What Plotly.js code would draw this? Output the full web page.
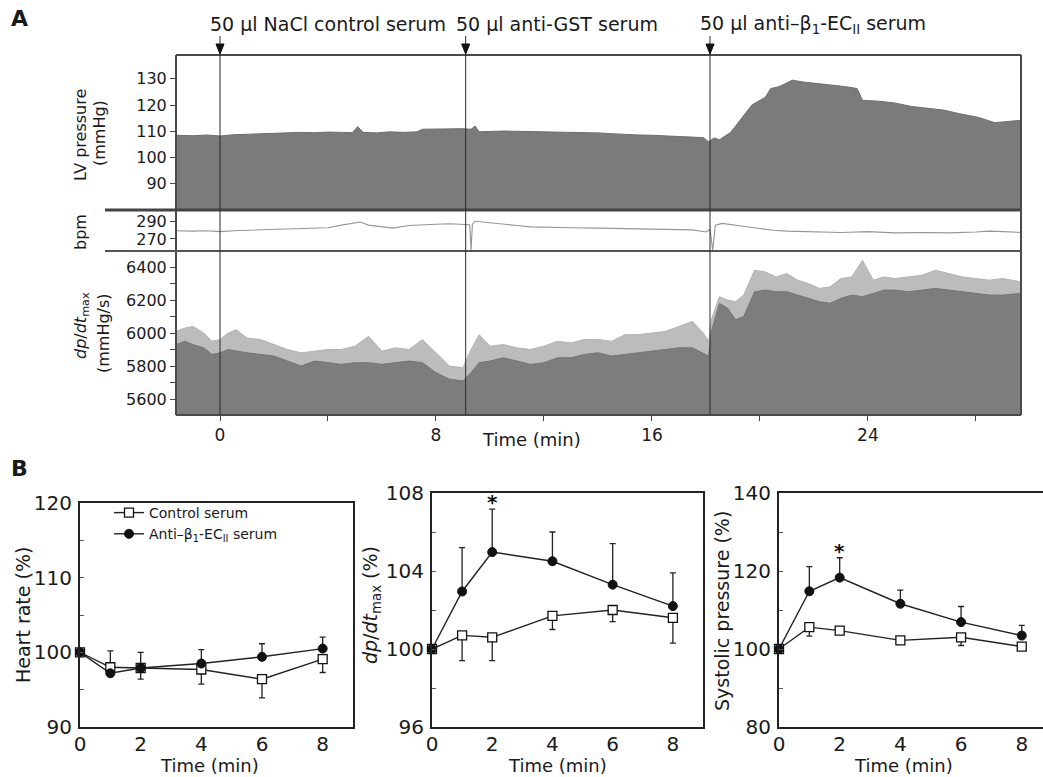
<!DOCTYPE html>
<html><head><meta charset="utf-8">
<script src="https://cdn.plot.ly/plotly-3.0.1.min.js"></script>
<style>html,body{margin:0;padding:0;background:#fff;} #chart{width:1043px;height:777px;}</style>
</head><body><div id="chart"></div>
<script>
// ---------- Panel A data (read from the recording) ----------
const lvTime = [-1.63,-1.0,-0.5,0,0.5,1.0,1.5,2.0,2.5,3.0,3.5,4.0,4.5,4.9,5.1,5.3,5.8,6.3,6.8,7.3,7.5,8.0,8.5,9.0,9.3,9.45,9.6,10.0,10.5,11.0,11.5,12.0,12.5,13.0,13.5,14.0,14.5,15.0,15.5,16.0,16.5,17.0,17.5,17.9,18.1,18.3,18.5,18.7,18.9,19.1,19.4,19.7,20.2,20.4,20.7,21.2,21.6,22.0,22.6,23.2,23.6,23.8,24.4,25.0,25.6,26.2,26.8,27.4,28.1,28.7,29.3,29.67];
const lvPressure = [108.5,108.3,108.6,108.2,108.7,108.9,109.0,109.2,109.4,109.6,109.5,109.7,109.6,109.5,111.8,109.6,109.4,109.8,109.6,109.8,110.8,110.9,110.8,111.0,110.8,112.0,109.8,110.0,110.1,110.0,109.9,110.0,109.8,109.7,109.6,109.4,109.1,108.8,108.6,108.5,108.2,108.0,107.8,107.6,106.0,107.5,106.8,108.0,109.5,112.0,116.0,120.0,123.0,126.3,127.0,129.5,128.8,128.4,127.7,127.0,126.3,121.8,121.5,120.8,119.5,118.8,118.1,116.7,115.3,113.3,114.0,114.2];

const bpmTime = [-1.63,-1.0,-0.5,0,0.5,1.0,1.5,2.0,2.5,3.0,3.5,4.0,4.5,5.0,5.2,5.5,6.0,6.4,7.0,7.5,8.0,8.5,9.0,9.25,9.3,9.35,9.45,10.0,10.5,11.0,11.5,12,13,14,15,16,17,17.5,18.0,18.15,18.25,18.35,18.6,19.0,19.5,20.0,20.5,21,22,23,24,25,26,27,28,28.5,29,29.67];
const bpmValues = [279.5,279.0,279.5,278.5,279.5,280.0,280.5,280.5,281.0,281.5,282.0,283.0,286.0,288.0,289.5,286.0,284.0,282.5,285.5,286.5,287.0,287.5,287.0,286.5,257,287,290.5,289.0,287.5,285.5,284.0,283.5,283,282.5,282,281.5,281,280.5,278,281,257,286,288,286,284,282,280,279,278,277.5,278.5,277,277.5,277,278,279,278.5,277.5];

const dpTime = [-1.63,-1.3,-1.0,-0.6,-0.3,0,0.3,0.6,1.0,1.5,2.0,2.5,3.0,3.5,4.0,4.5,5.0,5.5,6.0,6.5,7.0,7.5,8.0,8.5,9.0,9.3,9.6,10.0,10.5,11.0,11.5,12.0,12.5,13.0,13.5,14.0,14.5,15.0,15.5,16.0,16.5,17.0,17.5,17.9,18.1,18.2,18.5,18.8,19.1,19.4,19.8,20.2,20.6,21.0,21.4,21.8,22.2,22.6,23.0,23.4,23.8,24.2,24.6,25.0,25.5,26.0,26.5,27.0,27.5,28.0,28.5,29.0,29.67];
const dpDense = [5930,5950,5930,5910,5870,5880,5900,5890,5880,5870,5860,5830,5800,5830,5820,5810,5820,5820,5810,5820,5830,5820,5760,5720,5710,5760,5820,5830,5850,5830,5810,5820,5850,5850,5870,5880,5860,5870,5880,5890,5900,5910,5910,5880,5860,6010,6180,6150,6080,6100,6250,6260,6250,6250,6230,6210,6190,6180,6210,6230,6220,6240,6260,6260,6250,6260,6270,6260,6250,6240,6230,6230,6240];
const dpPeak = [6010,6030,6040,6000,5950,5960,6000,6020,5970,5960,5930,5900,5880,5890,5900,5900,5920,5980,5890,5910,5900,5960,5880,5800,5790,5900,5990,5920,5930,5910,5900,5920,5950,5940,5960,5960,5950,5990,5990,6000,6010,6040,6070,6000,5950,6080,6220,6200,6190,6230,6380,6370,6340,6360,6320,6300,6270,6280,6330,6340,6440,6320,6340,6330,6340,6350,6380,6360,6340,6330,6320,6330,6310];

const injectionTimes = [0, 9.1, 18.15];
const injectionLabels = ['50 μl NaCl control serum', '50 μl anti-GST serum', '50 μl anti–β<sub>1</sub>-EC<sub>II</sub> serum'];
const lvTicks = [90, 100, 110, 120, 130];
const bpmTicks = [270, 290];

// ---------- Panel B data ----------
const bTime = [0,1,2,4,6,8];
const seriesNames = ['Control serum', 'Anti–β<sub>1</sub>-EC<sub>II</sub> serum'];
const hrControl = [100, 98.0, 97.9, 97.7, 96.4, 99.1];
const hrControlUp = [0, 2.2, 2.1, 0, 0, 0];
const hrControlDown = [0, 0, 0, 1.95, 2.5, 1.8];
const hrAnti = [100, 97.2, 97.9, 98.5, 99.4, 100.5];
const hrAntiUp = [0, 0, 0, 1.85, 1.75, 1.55];
const hrAntiDown = [0, 0, 1.5, 0, 0, 0];

const dpControl = [100, 100.7, 100.6, 101.7, 102.0, 101.6];
const dpControlUp = [0, 0, 0, 0, 0, 0];
const dpControlDown = [0, 1.3, 1.2, 0.7, 0.6, 1.3];
const dpAnti = [100, 102.95, 104.97, 104.5, 103.3, 102.2];
const dpAntiUp = [0, 2.25, 2.2, 1.5, 2.1, 1.7];
const dpAntiDown = [0, 0, 0, 0, 0, 0];

const spControl = [100, 105.6, 104.7, 102.2, 103.0, 100.6];
const spControlUp = [0, 0, 0, 0, 0, 0];
const spControlDown = [0, 2.3, 0, 0, 2.1, 0];
const spAnti = [100, 114.8, 118.3, 111.6, 106.9, 103.45];
const spAntiUp = [0, 6.3, 5.1, 3.5, 4.0, 2.6];
const spAntiDown = [0, 0, 0, 0, 0, 0];

const starIndex = 2; // significant point (t = 2 min)

// ---------- layout helpers ----------
const W = 1043, H = 777;
const px = v => v / W;
const py = v => 1 - v / H;
const FONT = 'DejaVu Sans, Arial, sans-serif';
const INK = '#1a1a1a';
const A_LEFT = 176, A_RIGHT = 1021, A_TOP = 55, A_SEP1 = 210, A_SEP2 = 251, A_BOT = 415;

const traces = [];
traces.push({x: lvTime, y: lvPressure, xaxis: 'x', yaxis: 'y', type: 'scatter', mode: 'lines',
  fill: 'tozeroy', fillcolor: '#7b7b7b', line: {color: '#6e6e6e', width: 1}, showlegend: false, hoverinfo: 'skip'});
traces.push({x: bpmTime, y: bpmValues, xaxis: 'x', yaxis: 'y2', type: 'scatter', mode: 'lines',
  line: {color: '#959595', width: 1.1}, showlegend: false, hoverinfo: 'skip'});
traces.push({x: dpTime, y: dpPeak, xaxis: 'x', yaxis: 'y3', type: 'scatter', mode: 'lines',
  fill: 'tozeroy', fillcolor: '#bcbcbc', line: {color: '#b3b3b3', width: 1}, showlegend: false, hoverinfo: 'skip'});
traces.push({x: dpTime, y: dpDense, xaxis: 'x', yaxis: 'y3', type: 'scatter', mode: 'lines',
  fill: 'tozeroy', fillcolor: '#7d7d7d', line: {color: '#757575', width: 1}, showlegend: false, hoverinfo: 'skip'});

function bPair(xa, ya, ctrl, cUp, cDn, anti, aUp, aDn, legend) {
  const common = {type: 'scatter', mode: 'lines+markers', x: bTime, xaxis: xa, yaxis: ya, cliponaxis: false, hoverinfo: 'skip'};
  traces.push(Object.assign({}, common, {
    y: ctrl, name: seriesNames[0], showlegend: legend,
    line: {color: '#222', width: 1.4},
    marker: {symbol: 'square', size: 9, color: '#fff', line: {color: '#111', width: 1.3}},
    error_y: {type: 'data', symmetric: false, array: cUp, arrayminus: cDn, color: '#222', thickness: 1.3, width: 3}
  }));
  traces.push(Object.assign({}, common, {
    y: anti, name: seriesNames[1], showlegend: legend,
    line: {color: '#222', width: 1.4},
    marker: {symbol: 'circle', size: 9, color: '#111', line: {color: '#111', width: 1}},
    error_y: {type: 'data', symmetric: false, array: aUp, arrayminus: aDn, color: '#222', thickness: 1.3, width: 3}
  }));
}
bPair('x4', 'y4', hrControl, hrControlUp, hrControlDown, hrAnti, hrAntiUp, hrAntiDown, true);
bPair('x5', 'y5', dpControl, dpControlUp, dpControlDown, dpAnti, dpAntiUp, dpAntiDown, false);
bPair('x6', 'y6', spControl, spControlUp, spControlDown, spAnti, spAntiUp, spAntiDown, false);

const tickFontA = {family: FONT, size: 16, color: INK};
const tickFontB = {family: FONT, size: 20, color: INK};

function bY(domainTop, range, tick0, dtick, minorDtick) {
  return {domain: [py(727), py(domainTop)], range: range, tick0: tick0, dtick: dtick,
    ticks: 'inside', ticklen: 4, tickcolor: '#555', tickwidth: 1,
    minor: {dtick: minorDtick, tick0: tick0, ticks: 'inside', ticklen: 4, tickcolor: '#555', tickwidth: 1, showgrid: false},
    showline: true, linecolor: '#222', linewidth: 2, mirror: true, showgrid: false, zeroline: false,
    tickfont: tickFontB, ticklabelstandoff: 2, fixedrange: true};
}
function bX(left, right, range, anchor) {
  return {domain: [px(left), px(right)], range: range, anchor: anchor, tick0: 0, dtick: 2,
    ticks: '', showline: true, linecolor: '#222', linewidth: 2, mirror: true, showgrid: false, zeroline: false,
    tickfont: tickFontB, ticklabelstandoff: -2, fixedrange: true};
}
const tickStyleA = {ticks: 'outside', ticklen: 5, tickcolor: '#444', showline: false, showgrid: false, zeroline: false, fixedrange: true};

const layout = {
  width: W, height: H, margin: {l: 0, r: 0, t: 0, b: 0},
  paper_bgcolor: '#fff', plot_bgcolor: 'rgba(0,0,0,0)',
  font: {family: FONT, color: INK},
  xaxis: Object.assign({domain: [px(A_LEFT), px(A_RIGHT)], range: [-1.63, 29.67], anchor: 'y3',
    tick0: 0, dtick: 8, minor: {dtick: 4, tick0: 0, ticks: 'outside', ticklen: 5, tickcolor: '#444', showgrid: false},
    tickfont: {family: FONT, size: 17, color: INK}}, tickStyleA),
  yaxis: Object.assign({domain: [py(A_SEP1), py(A_TOP)], range: [80, 139.1], anchor: 'x',
    tickmode: 'array', tickvals: lvTicks, tickfont: tickFontA}, tickStyleA),
  yaxis2: Object.assign({domain: [py(A_SEP2), py(A_SEP1)], range: [256, 303.5], anchor: 'x',
    tickmode: 'array', tickvals: bpmTicks, tickfont: tickFontA}, tickStyleA),
  yaxis3: Object.assign({domain: [py(A_BOT), py(A_SEP2)], range: [5503, 6497], anchor: 'x',
    tick0: 5600, dtick: 200, minor: {dtick: 100, tick0: 5600, ticks: 'outside', ticklen: 5, tickcolor: '#444', showgrid: false},
    tickfont: tickFontA}, tickStyleA),
  xaxis4: bX(80, 353, [0, 9], 'y4'),
  yaxis4: Object.assign(bY(503, [90, 120], 90, 10, 5), {anchor: 'x4'}),
  xaxis5: bX(432, 703, [0, 9], 'y5'),
  yaxis5: Object.assign(bY(493, [96, 108], 96, 4, 2), {anchor: 'x5'}),
  xaxis6: bX(779, 1043, [0, 8.70], 'y6'),
  yaxis6: Object.assign(bY(493, [80, 140], 80, 20, 10), {anchor: 'x6', mirror: false}),
  showlegend: true,
  legend: {x: px(109), y: py(497), xanchor: 'left', yanchor: 'top', bgcolor: 'rgba(0,0,0,0)',
    font: {family: FONT, size: 14, color: INK}, tracegroupgap: 0, itemwidth: 30},
  shapes: [],
  annotations: []
};

const frameLine = (x0, y0, x1, y1, w, c) => ({type: 'line', xref: 'paper', yref: 'paper',
  x0: px(x0), y0: py(y0), x1: px(x1), y1: py(y1), line: {color: c || '#3a3a3a', width: w}});
layout.shapes.push(frameLine(A_LEFT, A_TOP, A_RIGHT, A_TOP, 2, '#4a4a4a'));
layout.shapes.push(frameLine(A_LEFT, A_BOT, A_RIGHT, A_BOT, 2, '#4a4a4a'));
layout.shapes.push(frameLine(A_LEFT, A_TOP, A_LEFT, A_BOT, 2, '#4a4a4a'));
layout.shapes.push(frameLine(A_RIGHT, A_TOP, A_RIGHT, A_BOT, 2, '#4a4a4a'));
layout.shapes.push(frameLine(105, A_SEP1, A_RIGHT, A_SEP1, 3, '#444'));
layout.shapes.push(frameLine(105, A_SEP2, A_RIGHT, A_SEP2, 2, '#555'));

injectionTimes.forEach((t, i) => {
  layout.shapes.push({type: 'line', xref: 'x', yref: 'paper', x0: t, x1: t, y0: py(A_BOT), y1: py(36),
    line: {color: '#2a2a2a', width: 1}});
  layout.shapes.push({type: 'path', xref: 'x', yref: 'paper',
    path: `M ${t - 0.15},${py(44)} L ${t + 0.15},${py(44)} L ${t},${py(54)} Z`,
    fillcolor: '#111', line: {color: '#111', width: 1}});
  layout.annotations.push({xref: 'x', yref: 'paper', x: t, y: py(24), xanchor: 'left', yanchor: 'middle',
    xshift: -12, text: injectionLabels[i], showarrow: false, font: {family: FONT, size: 19, color: INK}});
});

const ann = (x, y, text, size, opts) => Object.assign({xref: 'paper', yref: 'paper', x: px(x), y: py(y),
  text: text, showarrow: false, xanchor: 'center', yanchor: 'middle', font: {family: FONT, size: size, color: INK}}, opts || {});

layout.annotations.push(ann(19, 19, '<b>A</b>', 22));
layout.annotations.push(ann(19, 468, '<b>B</b>', 22));
layout.annotations.push(ann(80, 135, 'LV pressure', 16, {textangle: -90}));
layout.annotations.push(ann(99, 133, '(mmHg)', 16, {textangle: -90}));
layout.annotations.push(ann(80, 232, 'bpm', 16, {textangle: -90}));
layout.annotations.push(ann(81, 326, '<i>dp</i>/<i>dt</i><sub>max</sub>', 16, {textangle: -90}));
layout.annotations.push(ann(103, 333, '(mmHg/s)', 16, {textangle: -90}));
layout.annotations.push(ann(531, 439, 'Time (min)', 18));

layout.annotations.push(ann(209, 765, 'Time (min)', 18));
layout.annotations.push(ann(557, 765, 'Time (min)', 18));
layout.annotations.push(ann(903, 765, 'Time (min)', 18));
layout.annotations.push(ann(23, 615, 'Heart rate (%)', 19, {textangle: -90}));
layout.annotations.push(ann(371, 605, '<i>dp</i>/<i>dt</i><sub>max</sub> (%)', 19, {textangle: -90}));
layout.annotations.push(ann(722, 611, 'Systolic pressure (%)', 19, {textangle: -90}));

layout.annotations.push({xref: 'x5', yref: 'y5', x: bTime[starIndex], y: dpAnti[starIndex] + dpAntiUp[starIndex],
  yshift: -7, text: '<b>*</b>', showarrow: false, yanchor: 'bottom', font: {family: FONT, size: 20, color: '#111'}});
layout.annotations.push({xref: 'x6', yref: 'y6', x: bTime[starIndex], y: spAnti[starIndex] + spAntiUp[starIndex],
  yshift: -7, text: '<b>*</b>', showarrow: false, yanchor: 'bottom', font: {family: FONT, size: 20, color: '#111'}});

Plotly.newPlot('chart', traces, layout, {displayModeBar: false, staticPlot: true});
</script></body></html>
